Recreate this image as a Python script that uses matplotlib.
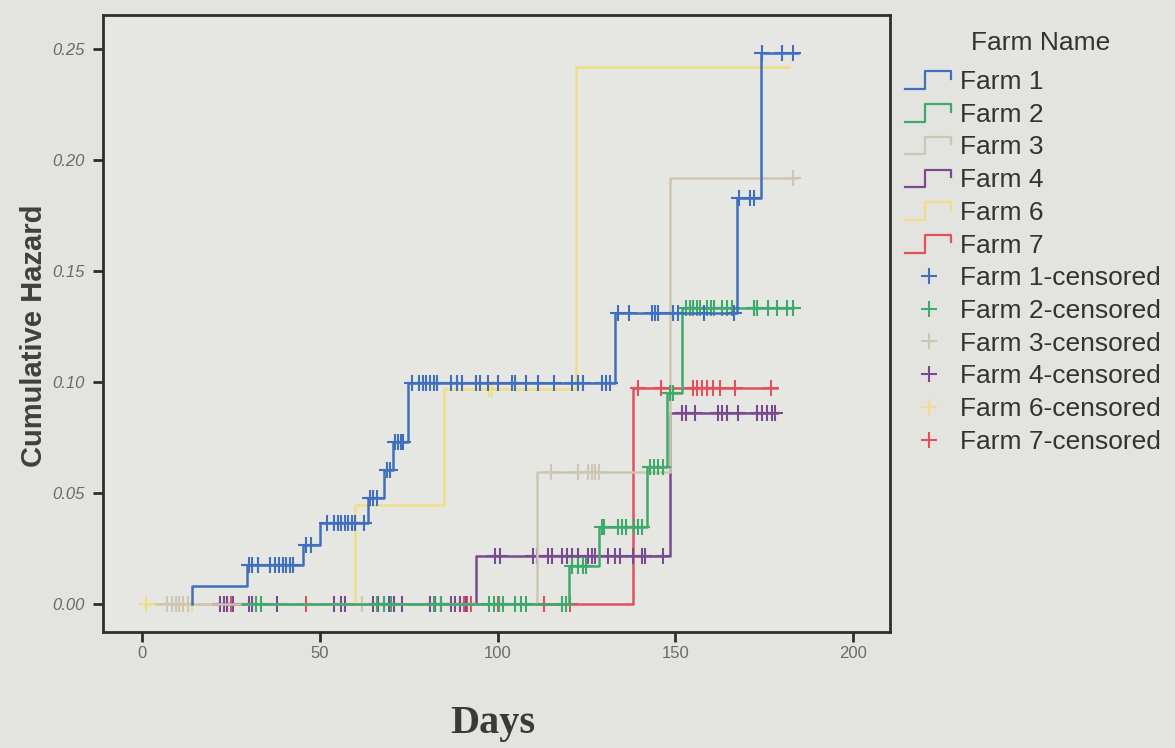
"""Cumulative hazard by farm (SPSS-style step plot with censor marks)."""

import numpy as np
import matplotlib

matplotlib.use("Agg")
import matplotlib.pyplot as plt
from matplotlib.lines import Line2D
from matplotlib.legend_handler import HandlerBase

# ---- data ------------------------------------------------------------------
farms = ["Farm 1", "Farm 2", "Farm 3", "Farm 4", "Farm 6", "Farm 7"]

# first day on study, event days (where the curve jumps) and level after each jump
start_days = [14, 28, 4, 20, 0, 16]
end_days = [184.5, 183, 184, 178.5, 182, 178.5]

farm1_steps = [14, 29.5, 45.3, 50, 63.6, 68, 70.6, 74.9, 133, 167.3, 174]
farm1_haz = [0.008, 0.0176, 0.0266, 0.0365, 0.0477, 0.0604, 0.073, 0.0995, 0.131, 0.183, 0.248]
farm2_steps = [120, 128.5, 142, 147.6, 152]
farm2_haz = [0.017, 0.0347, 0.0617, 0.095, 0.1333]
farm3_steps = [111, 148.5]
farm3_haz = [0.0595, 0.192]
farm4_steps = [94, 148.5]
farm4_haz = [0.0216, 0.086]
farm6_steps = [60, 85, 122]
farm6_haz = [0.0446, 0.097, 0.242]
farm7_steps = [138]
farm7_haz = [0.0973]

farm1_cens = [30, 31, 32.5, 36, 37.5, 38.5, 39.5, 40.5, 41.5, 42.5, 46, 47.5,
              52, 54, 55, 56, 57, 58, 59, 60, 62.5, 64, 65, 66, 68.8, 69.8,
              71.2, 72, 72.8, 73.5, 76, 78, 79, 80, 81, 82, 83, 87, 88.5, 90,
              94, 95, 97.3, 100, 104, 105, 108, 111.4, 116, 121, 122.5, 124,
              129.5, 130.5, 131.5, 134, 137, 143.4, 144.2, 145, 149.3, 150.7,
              158, 166.5, 168, 171, 172, 174.5, 180, 183]
farm2_cens = [32, 33.5, 66, 68, 70, 82, 84, 97.5, 99, 100.5, 101.6, 105, 106.5,
              108, 118, 119.3, 121, 122.5, 124, 125, 129.3, 130, 134, 135, 136,
              138.5, 139.5, 140.5, 143, 144, 145, 146.5, 148.5, 149.3, 153, 154,
              155, 156, 157, 159, 160, 161, 163, 164.5, 166, 172, 173, 176,
              178.6, 181.4, 183]
farm3_cens = [7, 8.5, 9.5, 10.5, 11.5, 13, 62, 82, 115, 122.6, 125.5, 126.5,
              127.5, 128.5, 183]
farm4_cens = [22, 23, 24, 25.5, 30, 31, 38, 54, 56, 57, 65, 66.5, 68, 69.5, 71,
              73, 81, 82.5, 84, 87, 88, 89.5, 91, 99.3, 100.7, 110, 111, 114.2,
              115.3, 118, 119.5, 121, 122.6, 125.5, 126.5, 127.5, 131, 133,
              134.4, 138, 140.6, 141.5, 146.5, 152, 153, 155.5, 162, 163, 164.5,
              167.6, 173, 174.3, 175.8, 177.2, 178]
farm6_cens = [1, 14, 97.5, 98.5]
farm7_cens = [24, 25, 46, 89.5, 90.5, 91.5, 92.5, 100, 113, 120.5, 139.5, 146,
              155, 156, 157.5, 159, 160.6, 162.5, 166.8, 177]

steps = [farm1_steps, farm2_steps, farm3_steps, farm4_steps, farm6_steps, farm7_steps]
hazards = [farm1_haz, farm2_haz, farm3_haz, farm4_haz, farm6_haz, farm7_haz]
censored = [farm1_cens, farm2_cens, farm3_cens, farm4_cens, farm6_cens, farm7_cens]

colors = ["#3f6fbd", "#3daa6c", "#cdc6b2", "#7a4a91", "#f0de86", "#e2505c"]

x_ticks = [0, 50, 100, 150, 200]
y_ticks = [0.00, 0.05, 0.10, 0.15, 0.20, 0.25]

BG = "#e3e4e0"
TEXT = "#333333"


class StepHandler(HandlerBase):
    """Legend key drawn as a little step, like the SPSS survival legend."""

    def create_artists(self, legend, orig, xd, yd, w, h, fontsize, trans):
        xs = [xd, xd + 0.42 * w, xd + 0.42 * w, xd + 0.97 * w, xd + 0.97 * w]
        ys = [yd + 0.0 * h, yd + 0.0 * h, yd + 0.95 * h, yd + 0.95 * h, yd + 0.55 * h]
        ln = Line2D(xs, ys, color=orig.get_color(), lw=1.6)
        ln.set_transform(trans)
        return [ln]


def level_at(t, step_days, levels):
    idx = np.searchsorted(step_days, t, side="right")
    vals = np.concatenate([[0.0], levels])
    return vals[idx]


fig = plt.figure(figsize=(11.75, 7.48), dpi=100, facecolor=BG)
ax = fig.add_axes([103 / 1175, 116 / 748, 787 / 1175, 617 / 748], facecolor="#e6e7e3")

line_handles, cens_handles = [], []
for i, farm in enumerate(farms):
    z = 10 - i
    xs = [start_days[i]] + steps[i] + [end_days[i]]
    ys = [0.0] + hazards[i] + [hazards[i][-1]]
    (ln,) = ax.step(xs, ys, where="post", color=colors[i], lw=1.8, zorder=z)
    line_handles.append(ln)

    c = np.array(censored[i])
    cy = level_at(c, np.array(steps[i]), np.array(hazards[i]))
    (cm,) = ax.plot(c, cy, ls="none", marker="+", ms=11, mew=1.5,
                    color=colors[i], zorder=z)
    cens_handles.append(cm)

ax.set_xlim(-11, 210.4)
ax.set_ylim(-0.0126, 0.2653)
ax.set_xticks(x_ticks)
ax.set_xticklabels([str(v) for v in x_ticks])
ax.set_yticks(y_ticks)
ax.set_yticklabels([f"{v:.2f}" for v in y_ticks])

for s in ax.spines.values():
    s.set_color("#2e2e2e")
    s.set_linewidth(2)
ax.tick_params(axis="both", direction="out", length=7, width=2, color="#2e2e2e")
ax.tick_params(axis="y", pad=6)
ax.tick_params(axis="x", pad=3)
for lab in ax.get_yticklabels():
    lab.set_fontfamily("Liberation Sans")
    lab.set_fontstyle("italic")
    lab.set_fontsize(12)
    lab.set_color("#6a6a6a")
for lab in ax.get_xticklabels():
    lab.set_fontfamily("Liberation Sans")
    lab.set_fontsize(12)
    lab.set_color("#6a6a6a")

ax.set_ylabel("Cumulative Hazard", fontfamily="Liberation Sans", fontweight="bold",
              fontsize=21, color="#404040")
ax.yaxis.set_label_coords(-0.070, 0.48)
ax.set_xlabel("Days", fontfamily="Liberation Serif", fontweight="bold",
              fontsize=29, color="#3a3a3a")
ax.xaxis.set_label_coords(0.4955, -0.118)

# legend title sits a little apart from the entries, so it is a plain text
fig.text(1041 / 1175, 1 - 43 / 748, "Farm Name", ha="center", va="center",
         fontfamily="Liberation Sans", fontsize=19, color=TEXT)

handles = line_handles + cens_handles
labels = farms + [f"{f}-censored" for f in farms]
leg = fig.legend(
    handles, labels,
    loc="upper left", bbox_to_anchor=(905 / 1175, 1 - 70 / 748),
    frameon=False,
    prop={"family": "Liberation Sans", "size": 19},
    handlelength=1.8, handletextpad=0.3, labelspacing=0.33, borderaxespad=0,
    borderpad=0, handler_map={h: StepHandler() for h in line_handles},
)
for t in leg.get_texts():
    t.set_color(TEXT)

fig.savefig("out.png", dpi=100, facecolor=BG)
